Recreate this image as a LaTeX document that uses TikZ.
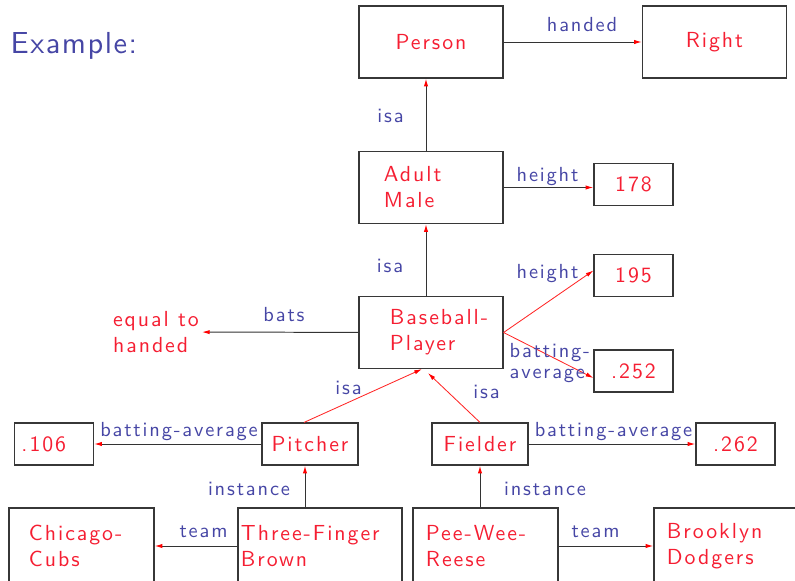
\documentclass[tikz,border=0pt]{standalone}
\usepackage{fontspec}
\setsansfont{lmsans10-regular.otf}[LetterSpace=9]
\usetikzlibrary{arrows.meta}
\definecolor{nodered}{RGB}{245,30,50}
\definecolor{lblblue}{RGB}{70,70,165}
\definecolor{framegray}{RGB}{55,55,55}

\begin{document}
\begin{tikzpicture}[x=0.025cm, y=-0.025cm, font=\sffamily,
  bx/.style={draw=framegray, line width=0.8pt, text=nodered, inner sep=2pt,
             font=\sffamily\fontsize{15.5}{18.5}\selectfont},
  big/.style={bx, minimum width=3.6cm, minimum height=1.8cm},
  val/.style={bx, minimum width=1.975cm, minimum height=1.05cm},
  cls/.style={bx, minimum width=2.4cm, minimum height=1.05cm},
  low/.style={bx, minimum height=1.9cm, align=left},
  lbl/.style={text=lblblue, inner sep=1pt,
              font=\sffamily\fontsize{14.5}{17}\selectfont},
  ar/.style={draw=black!80, line width=0.7pt,
             -{Latex[red, length=5.5pt, width=3pt]}},
  rar/.style={draw=red!85, line width=0.6pt,
              -{Latex[red, length=5.5pt, width=3pt]}}
]
\useasboundingbox (0,0) rectangle (795,580);
\node[lbl, anchor=base west, font=\sffamily\fontsize{21.6}{24}\selectfont\addfontfeature{LetterSpace=5}] (title) at (9,53) {Example:};

% frames
\node[big] (per) at (431,42) {Person};
\node[big] (rgt) at (714.5,42) {Right};
\node[big, align=left, text width=2.35cm] (am) at (431,187.5) {Adult\\Male};
\node[val] (v178) at (633.5,184.5) {178};
\node[val] (v195) at (633.5,275.5) {195};
\node[big, align=left, text width=2.05cm] (bp) at (431,332.5) {\mbox{Baseball-}\\Player};
\node[val] (v252) at (633.5,371) {.252};
\node[text=nodered, inner sep=2pt, align=left, anchor=west,
      font=\sffamily\fontsize{15.5}{18.5}\selectfont] (eq) at (110,332) {equal to\\handed};
\node[val, align=left, text width=1.625cm] (v106) at (54,444) {.106};
\node[cls] (pit) at (310,444) {Pitcher};
\node[cls] (fld) at (480,444) {Fielder};
\node[val] (v262) at (735.5,444) {.262};
\node[low, minimum width=3.625cm, text width=2.625cm] (chi) at (81.5,546) {\mbox{Chicago-}\\Cubs};
\node[low, minimum width=4.1cm, text width=3.95cm] (tfb) at (320,546) {\mbox{Three-Finger}\\Brown};
\node[low, minimum width=3.625cm, text width=2.975cm] (pw) at (485.5,546) {\mbox{Pee-Wee-}\\Reese};
\node[low, minimum width=3.65cm, text width=3.0cm] (bd) at (727,546) {Brooklyn\\Dodgers};

% slots
\draw[ar] (per) -- (rgt);
\draw[ar] ([shift={(-5,0)}]am.north) -- ([shift={(-5,0)}]per.south);
\draw[ar] (am.east) -- (am.east -| v178.west);
\draw[ar] ([shift={(-5,0)}]bp.north) -- ([shift={(-5,0)}]am.south);
\draw[rar] (bp.east) -- ([shift={(0,-5)}]v195.west);
\draw[rar] (bp.east) -- ([shift={(0,7)}]v252.west);
\draw[ar] (bp) -- (eq);
\draw[rar] ([shift={(-6,0)}]pit.north) -- ([shift={(-9,0)}]bp.south);
\draw[rar] (fld.north) -- ([shift={(-3,4)}]bp.south);
\draw[ar] (pit) -- (v106);
\draw[ar] (fld) -- (v262);
\draw[ar] ([shift={(-15,0)}]tfb.north) -- ([shift={(-5,0)}]pit.south);
\draw[ar] (tfb) -- (chi);
\draw[ar] (pw.north -| fld.south) -- (fld.south);
\draw[ar] (pw) -- (bd);

% slot names
\node[lbl, anchor=base] (lhand) at (582,31) {handed};
\node[lbl, anchor=base] (lisaA) at (390.5,122) {isa};
\node[lbl, anchor=base] (lhtA) at (547.5,181) {height};
\node[lbl, anchor=base] (lisaB) at (390,272) {isa};
\node[lbl, anchor=base] (lhtB) at (547.5,278) {height};
\node[lbl, anchor=west, align=left, font=\sffamily\fontsize{14.5}{14.5}\selectfont] (lbavg) at (508,363) {batting-\\average};
\node[lbl, anchor=base] (lbats) at (284,321) {bats};
\node[lbl, anchor=base] (lisaP) at (348.5,394) {isa};
\node[lbl, anchor=base] (lisaF) at (486.5,398) {isa};
\node[lbl, anchor=base] (lbaP) at (179,436) {batting-average};
\node[lbl, anchor=base] (lbaF) at (613.5,436) {batting-average};
\node[lbl, anchor=base] (linsP) at (249,495) {instance};
\node[lbl, anchor=base] (linsF) at (545,495) {instance};
\node[lbl, anchor=base] (lteamL) at (203.5,537) {team};
\node[lbl, anchor=base] (lteamR) at (595.5,537) {team};
\end{tikzpicture}
\end{document}
